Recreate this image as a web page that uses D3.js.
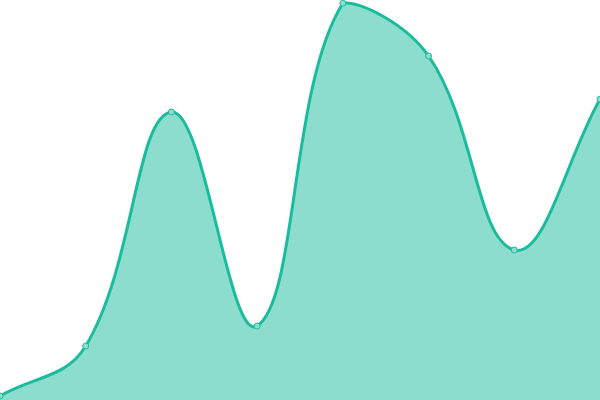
<!DOCTYPE html>
<html>
<head>
<meta charset="utf-8">
<script src="https://cdn.jsdelivr.net/npm/d3@7"></script>
<style>
  html, body { margin: 0; padding: 0; background: #fff; }
  svg { display: block; }
</style>
</head>
<body>
<div id="chart"></div>
<script>
var labels = ["A", "B", "C", "D", "E", "F", "G", "H"];
var values = [1, 13.5, 72, 18.5, 99.2, 86, 37.5, 75.2];

var width = 600, height = 400;
var lineColor = "#1abc9c",
    fillColor = "rgba(26,188,156,0.5)",
    pointFill = "#8ddece",
    tension = 0.4;

// spline like the canvas chart libs do it: tension scaled by neighbour distances,
// control points kept inside the plot box
function SplineCurve(context){ this._context = context; }
SplineCurve.prototype = {
    areaStart: function(){ this._line = 0; },
    areaEnd: function(){ this._line = NaN; },
    lineStart: function(){ this._pts = []; },
    point: function(x, y){ this._pts.push([+x, +y]); },
    lineEnd: function(){
        var p = this._pts, n = p.length, c = this._context;
        if (n){
            if (this._line) c.lineTo(p[0][0], p[0][1]);
            else c.moveTo(p[0][0], p[0][1]);
        }
        var cps = p.map(function(cur, i){
            var prev = p[Math.max(i - 1, 0)], next = p[Math.min(i + 1, n - 1)];
            var d01 = Math.hypot(cur[0] - prev[0], cur[1] - prev[1]),
                d12 = Math.hypot(next[0] - cur[0], next[1] - cur[1]);
            var s01 = d01 / (d01 + d12), s12 = d12 / (d01 + d12);
            if (isNaN(s01)) s01 = 0;
            if (isNaN(s12)) s12 = 0;
            var fa = tension * s01, fb = tension * s12;
            var dx = next[0] - prev[0], dy = next[1] - prev[1];
            return {
                px: clamp(cur[0] - fa * dx, 0, width), py: clamp(cur[1] - fa * dy, 0, height),
                nx: clamp(cur[0] + fb * dx, 0, width), ny: clamp(cur[1] + fb * dy, 0, height)
            };
        });
        for (var i = 0; i < n - 1; i++){
            c.bezierCurveTo(cps[i].nx, cps[i].ny, cps[i+1].px, cps[i+1].py, p[i+1][0], p[i+1][1]);
        }
        if (this._line || (this._line !== 0 && n === 1)) c.closePath();
        this._line = 1 - this._line;
    }
};
function clamp(v, a, b){ return Math.max(a, Math.min(b, v)); }
function splineCurve(context){ return new SplineCurve(context); }

var data = labels.map(function(l, i){ return { label: l, value: values[i] }; });

var x = d3.scalePoint()
    .domain(labels)
    .range([0, width]);

var y = d3.scaleLinear()
    .domain([0, 100])
    .range([height, 0]);

var svg = d3.select("#chart")
    .append("svg")
        .attr("width", width)
        .attr("height", height);

var area = d3.area()
    .x(function(d){ return x(d.label); })
    .y0(height)
    .y1(function(d){ return y(d.value); })
    .curve(splineCurve);

var line = d3.line()
    .x(function(d){ return x(d.label); })
    .y(function(d){ return y(d.value); })
    .curve(splineCurve);

svg.append("path")
    .datum(data)
    .attr("d", area)
    .attr("fill", fillColor);

svg.append("path")
    .datum(data)
    .attr("d", line)
    .attr("fill", "none")
    .attr("stroke", lineColor)
    .attr("stroke-width", 3);

svg.append("g")
    .selectAll("circle")
    .data(data)
    .enter()
        .append("circle")
        .attr("cx", function(d){ return x(d.label); })
        .attr("cy", function(d){ return y(d.value); })
        .attr("r", 3)
        .attr("fill", pointFill)
        .attr("stroke", lineColor)
        .attr("stroke-width", 1);
</script>
</body>
</html>
